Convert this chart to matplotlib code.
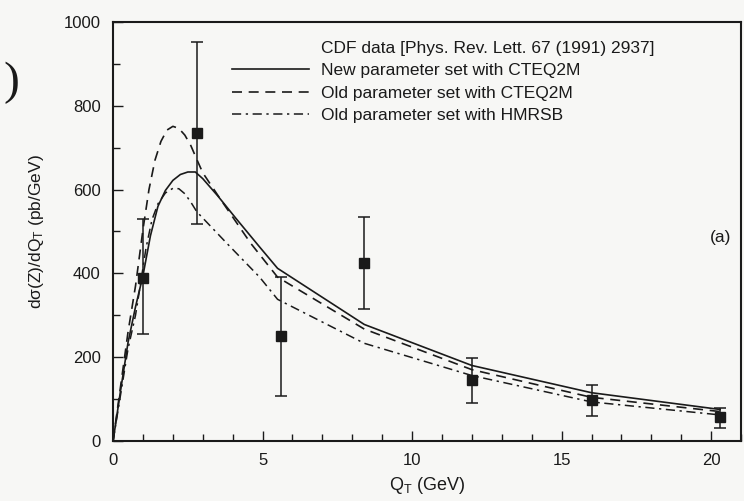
import matplotlib

matplotlib.use('Agg')
import matplotlib.pyplot as plt
from matplotlib.lines import Line2D
from matplotlib.ticker import MultipleLocator

# CDF data points (Q_T in GeV, dsigma/dQ_T in pb/GeV)
qt_data = [1.0, 2.8, 5.6, 8.4, 12.0, 16.0, 20.3]
sig_data = [390, 735, 250, 425, 146, 98, 56]
err_up = [530, 952, 391, 535, 199, 134, 79]
err_lo = [254, 518, 108, 314, 91, 60, 31]

# new parameter set, CTEQ2M (solid)
qt_new = [0, 0.25, 0.5, 0.75, 1.0, 1.25, 1.5, 1.75, 2.0, 2.25, 2.5, 2.75,
          3.0, 3.5, 4.1, 4.9, 5.5, 8.4, 12.0, 16.0, 20.3]
sig_new = [0, 120, 235, 320, 395, 490, 560, 598, 622, 636, 642, 642,
           626, 585, 532, 463, 412, 278, 180, 115, 75]

# old parameter set, CTEQ2M (dashed)
qt_old = [0, 0.25, 0.5, 0.75, 1.0, 1.2, 1.4, 1.6, 1.8, 2.0, 2.2, 2.4, 2.6,
          2.8, 3.0, 3.6, 4.6, 5.5, 8.4, 12.0, 16.0, 20.3]
sig_old = [0, 130, 260, 370, 505, 600, 670, 715, 742, 751, 746, 730, 705,
           672, 640, 576, 472, 391, 267, 170, 104, 70]

# old parameter set, HMRSB (dash-dot)
qt_hm = [0, 0.25, 0.5, 0.75, 0.9, 1.1, 1.3, 1.5, 1.75, 2.0, 2.2, 2.4, 2.6,
         2.8, 3.8, 4.9, 5.5, 8.4, 12.0, 16.0, 20.3]
sig_hm = [0, 110, 220, 300, 367, 460, 528, 566, 592, 603, 602, 590, 570,
          547, 472, 391, 338, 233, 156, 93, 62]

labels = [
    "CDF data [Phys. Rev. Lett. 67 (1991) 2937]",
    "New parameter set with CTEQ2M",
    "Old parameter set with CTEQ2M",
    "Old parameter set with HMRSB",
]

plt.rcParams['font.family'] = ['Liberation Sans', 'DejaVu Sans']
plt.rcParams['mathtext.fontset'] = 'custom'
plt.rcParams['mathtext.rm'] = 'Liberation Sans'
plt.rcParams['mathtext.it'] = 'Liberation Sans'

bg = '#f7f7f5'
ink = '#1a1a1a'

fig = plt.figure(figsize=(7.44, 5.01), dpi=100, facecolor=bg)
ax = fig.add_axes([0.152, 0.12, 0.844, 0.836], facecolor=bg)

ax.plot(qt_new, sig_new, color=ink, lw=1.2, ls='-')
ax.plot(qt_old, sig_old, color=ink, lw=1.2, ls=(0, (6, 4)))
ax.plot(qt_hm, sig_hm, color=ink, lw=1.1, ls=(0, (6, 3, 1.5, 3)))

yerr = [[s - lo for s, lo in zip(sig_data, err_lo)],
        [hi - s for s, hi in zip(sig_data, err_up)]]
ax.errorbar(qt_data, sig_data, yerr=yerr, fmt='s', color=ink, ms=7,
            elinewidth=1.1, capsize=4, capthick=1.1, zorder=5)

ax.set_xlim(0, 21)
ax.set_ylim(0, 1000)
ax.xaxis.set_major_locator(MultipleLocator(5))
ax.xaxis.set_minor_locator(MultipleLocator(1))
ax.yaxis.set_major_locator(MultipleLocator(200))
ax.yaxis.set_minor_locator(MultipleLocator(100))
ax.tick_params(which='both', direction='in', colors=ink, width=1.0,
               labelsize=12)
ax.tick_params(which='major', length=7, pad=9)
ax.tick_params(which='minor', length=5)
for s in ax.spines.values():
    s.set_linewidth(1.5)
    s.set_color(ink)

ax.set_xlabel(r"Q$_\mathrm{T}$ (GeV)", fontsize=13, color=ink, labelpad=5)
ax.set_ylabel(r"dσ(Z)/dQ$_\mathrm{T}$ (pb/GeV)", fontsize=12.5, color=ink,
              labelpad=13)

handles = [
    Line2D([], [], color='none'),
    Line2D([], [], color=ink, lw=1.2, ls='-'),
    Line2D([], [], color=ink, lw=1.2, ls=(0, (6, 4))),
    Line2D([], [], color=ink, lw=1.1, ls=(0, (6, 3, 1.5, 3))),
]
ax.legend(handles, labels, loc='upper left', bbox_to_anchor=(0.19, 0.955),
          frameon=False, fontsize=12.5, handlelength=4.4, handletextpad=0.7,
          labelspacing=0.42, borderpad=0, borderaxespad=0, labelcolor=ink)

ax.text(0.985, 0.485, "(a)", transform=ax.transAxes, ha='right', va='center',
        fontsize=12.5, color=ink)

# stray bracket left over from the scanned page
fig.text(0.004, 0.835, ")", fontsize=34, family='Liberation Serif',
         color=ink, va='center')

fig.savefig("out.png", dpi=100, facecolor=bg)
